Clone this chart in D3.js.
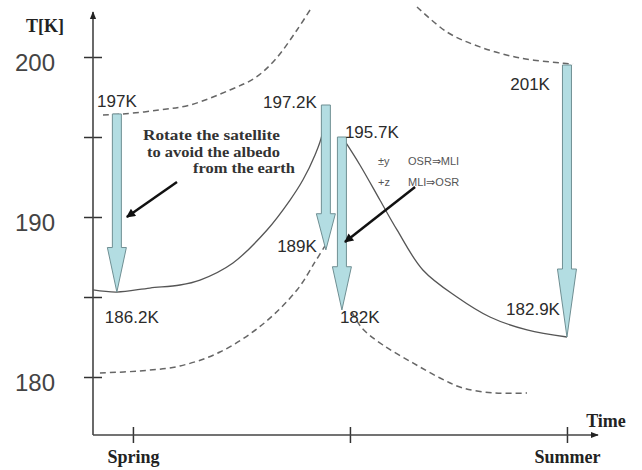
<!DOCTYPE html>
<html><head><meta charset="utf-8">
<script src="https://cdn.jsdelivr.net/npm/d3@7"></script>
<style>
html,body{margin:0;padding:0;background:#fff;}
svg{display:block;}
</style></head>
<body>
<svg id="chart" width="642" height="470"></svg>
<script>
// ---------- DATA ----------
// time: Spring = 0, mid season = 1, Summer = 2 ; temperature in K
const seasonTicks = [0, 1, 2];
const seasonLabels = ["Spring", "", "Summer"];
const tempTicks = [200, 195, 190, 185, 180];
const tempTickLabels = ["200", "", "190", "", "180"];

// solid curve before the switch (spring -> mid)
const riseT    = [-0.184, -0.074, 0.078, 0.217, 0.309, 0.461, 0.618, 0.724, 0.783, 0.839, 0.871, 0.876];
const riseTemp = [185.44, 185.31, 185.56, 185.75, 186.06, 187.13, 189.19, 191.06, 192.31, 193.88, 195.13, 196.56];
// solid curve after the switch (mid -> summer)
const fallT    = [0.982, 1.046, 1.138, 1.217, 1.336, 1.493, 1.645, 1.816, 2.0];
const fallTemp = [194.63, 193.25, 191.06, 189.19, 186.69, 185.0, 183.75, 182.94, 182.5];
// dashed curves
const dashUL_T    = [-0.138, -0.046, 0.124, 0.263, 0.447, 0.562, 0.654, 0.756, 0.825];
const dashUL_Temp = [196.38, 196.44, 196.69, 197.0, 197.94, 198.69, 199.81, 201.69, 203.13];
const dashUR_T    = [1.309, 1.447, 1.599, 1.783, 1.968, 2.028];
const dashUR_Temp = [203.13, 201.56, 200.63, 199.94, 199.63, 199.56];
const dashLL_T    = [-0.152, 0.032, 0.217, 0.401, 0.594, 0.756, 0.839, 0.885];
const dashLL_Temp = [180.25, 180.38, 180.69, 181.56, 183.25, 185.44, 187.19, 188.19];
const dashLR_T    = [1.009, 1.055, 1.152, 1.290, 1.415, 1.521, 1.668, 1.816];
const dashLR_Temp = [184.06, 183.06, 182.0, 180.88, 179.94, 179.31, 179.0, 179.0];

// temperature drop arrows
const dropT     = [-0.074, 0.889, 0.963, 2.0];
const dropFrom  = [196.44, 197.0, 195.0, 199.5];
const dropTo    = [185.31, 187.94, 184.19, 182.5];
const dropTopLabels    = ["197K", "197.2K", "195.7K", "201K"];
const dropBottomLabels = ["186.2K", "189K", "182K", "182.9K"];

// annotation pointer arrows
const pointerFromT = [0.203, 1.300];
const pointerFromTemp = [192.19, 191.88];
const pointerToT = [-0.028, 0.977];
const pointerToTemp = [190.0, 188.44];

const noteLines = ["Rotate the satellite", "to avoid the albedo", "from the earth"];
const switchLeft = ["\u00B1y", "+z"];
const switchRight = ["OSR\u21D2MLI", "MLI\u21D2OSR"];

// ---------- LAYOUT / STYLE ----------
const svg = d3.select("#chart");
const x = d3.scaleLinear().domain([-0.184, 2.143]).range([93, 598]);
const y = d3.scaleLinear().domain([180, 200]).range([377, 57]);
const x0 = x(-0.184), y0 = y(176.375), yTop = y(202.81);

const defs = svg.append("defs");
defs.append("marker").attr("id", "axhead").attr("viewBox", "0 0 10 10")
  .attr("refX", 9).attr("refY", 5).attr("markerWidth", 8).attr("markerHeight", 8)
  .attr("markerUnits", "userSpaceOnUse").attr("orient", "auto")
  .append("path").attr("d", "M0,1 L10,5 L0,9 Z").attr("fill", "#222");
defs.append("marker").attr("id", "ptrhead").attr("viewBox", "0 0 10 10")
  .attr("refX", 9).attr("refY", 5).attr("markerWidth", 11).attr("markerHeight", 9)
  .attr("markerUnits", "userSpaceOnUse").attr("orient", "auto")
  .append("path").attr("d", "M0,0 L10,5 L0,10 Z").attr("fill", "#111");

// axes
const yAxis = d3.axisLeft(y).tickValues(tempTicks)
  .tickFormat((d, i) => tempTickLabels[i]).tickSize(9).tickPadding(29);
const gy = svg.append("g").attr("transform", `translate(${x0},0)`).call(yAxis);
gy.select(".domain").remove();
gy.selectAll(".tick line").attr("x1", -9).attr("x2", 9).attr("stroke", "#333").attr("stroke-width", 1.5);
gy.selectAll(".tick text").attr("font-family", "Liberation Sans, Arial, sans-serif")
  .attr("font-size", 24).attr("fill", "#444").attr("dy", "0.55em");

const xAxis = d3.axisBottom(x).tickValues(seasonTicks)
  .tickFormat((d, i) => seasonLabels[i]).tickSize(8).tickPadding(9);
const gx = svg.append("g").attr("transform", `translate(0,${y0})`).call(xAxis);
gx.select(".domain").remove();
gx.selectAll(".tick line").attr("y1", -8).attr("y2", 8).attr("stroke", "#333").attr("stroke-width", 1.5);
gx.selectAll(".tick text").attr("font-family", "Liberation Serif, Times New Roman, serif")
  .attr("font-weight", "bold").attr("font-size", 18).attr("fill", "#222").attr("dy", "0.6em");

svg.append("line").attr("x1", x0).attr("y1", y0).attr("x2", x0).attr("y2", yTop)
  .attr("stroke", "#444").attr("stroke-width", 1.6).attr("marker-end", "url(#axhead)");
svg.append("line").attr("x1", x0).attr("y1", y0).attr("x2", x(2.143)).attr("y2", y0)
  .attr("stroke", "#444").attr("stroke-width", 1.6).attr("marker-end", "url(#axhead)");

svg.append("text").attr("x", 45).attr("y", 32).attr("text-anchor", "middle")
  .attr("font-family", "Liberation Serif, Times New Roman, serif").attr("font-weight", "bold")
  .attr("font-size", 18).attr("fill", "#222").text("T[K]");
svg.append("text").attr("x", 606).attr("y", 427).attr("text-anchor", "middle")
  .attr("font-family", "Liberation Serif, Times New Roman, serif").attr("font-weight", "bold")
  .attr("font-size", 18).attr("fill", "#222").text("Time");

// curves
const line = d3.line().x(d => x(d[0])).y(d => y(d[1])).curve(d3.curveCatmullRom.alpha(0.5));
const zip = (a, b) => a.map((v, i) => [v, b[i]]);
[[riseT, riseTemp], [fallT, fallTemp]].forEach(([a, b]) => {
  svg.append("path").attr("d", line(zip(a, b))).attr("fill", "none")
    .attr("stroke", "#555").attr("stroke-width", 1.3);
});
[[dashUL_T, dashUL_Temp], [dashUR_T, dashUR_Temp], [dashLL_T, dashLL_Temp], [dashLR_T, dashLR_Temp]]
  .forEach(([a, b]) => {
    svg.append("path").attr("d", line(zip(a, b))).attr("fill", "none")
      .attr("stroke", "#666").attr("stroke-width", 1.5).attr("stroke-dasharray", "6,4");
  });

// drop arrows
dropT.forEach((t, i) => {
  const cx = x(t), top = y(dropFrom[i]), tip = y(dropTo[i]);
  const len = tip - top, headLen = 0.25 * len, sw = 4.5, hw = 9.5;
  const hs = tip - headLen;
  const p = d3.path();
  p.moveTo(cx - sw, top); p.lineTo(cx + sw, top); p.lineTo(cx + sw, hs);
  p.lineTo(cx + hw, hs); p.lineTo(cx, tip); p.lineTo(cx - hw, hs);
  p.lineTo(cx - sw, hs); p.closePath();
  svg.append("path").attr("d", p.toString()).attr("fill", "#b3dde2")
    .attr("stroke", "#6f8f93").attr("stroke-width", 1);
});

// value labels
const topOff = [{dx: 0, dy: -7, a: "middle"}, {dx: -9, dy: 3, a: "end"}, {dx: 3, dy: 1, a: "start"}, {dx: -17, dy: 25, a: "end"}];
const botOff = [{dx: -12, dy: 31, a: "start"}, {dx: -9, dy: 2, a: "end"}, {dx: -2, dy: 13, a: "start"}, {dx: -7, dy: -22, a: "end"}];
const lblFont = "Liberation Sans, Arial, sans-serif";
dropT.forEach((t, i) => {
  svg.append("text").attr("x", x(t) + topOff[i].dx).attr("y", y(dropFrom[i]) + topOff[i].dy)
    .attr("text-anchor", topOff[i].a).attr("font-family", lblFont).attr("font-size", 17)
    .attr("fill", "#2b2b2b").text(dropTopLabels[i]);
  svg.append("text").attr("x", x(t) + botOff[i].dx).attr("y", y(dropTo[i]) + botOff[i].dy)
    .attr("text-anchor", botOff[i].a).attr("font-family", lblFont).attr("font-size", 17)
    .attr("fill", "#2b2b2b").text(dropBottomLabels[i]);
});

// pointer arrows
pointerFromT.forEach((t, i) => {
  svg.append("line").attr("x1", x(t)).attr("y1", y(pointerFromTemp[i]))
    .attr("x2", x(pointerToT[i])).attr("y2", y(pointerToTemp[i]))
    .attr("stroke", "#111").attr("stroke-width", 2.5).attr("marker-end", "url(#ptrhead)");
});

// notes
const notePos = [[143, 140, 137], [147, 156.5, 133], [193, 173, 102]];
noteLines.forEach((s, i) => {
  svg.append("text").attr("x", notePos[i][0]).attr("y", notePos[i][1])
    .attr("font-family", "Liberation Serif, Times New Roman, serif").attr("font-weight", "bold")
    .attr("font-size", 15).attr("fill", "#333")
    .attr("textLength", notePos[i][2]).attr("lengthAdjust", "spacingAndGlyphs").text(s);
});
const swY = [165, 186];
switchLeft.forEach((s, i) => {
  svg.append("text").attr("x", 378).attr("y", swY[i]).attr("font-family", lblFont)
    .attr("font-size", 11).attr("fill", "#555").text(s);
  svg.append("text").attr("x", 408).attr("y", swY[i]).attr("font-family", lblFont)
    .attr("font-size", 11).attr("fill", "#555").text(switchRight[i]);
});
</script>
</body></html>
